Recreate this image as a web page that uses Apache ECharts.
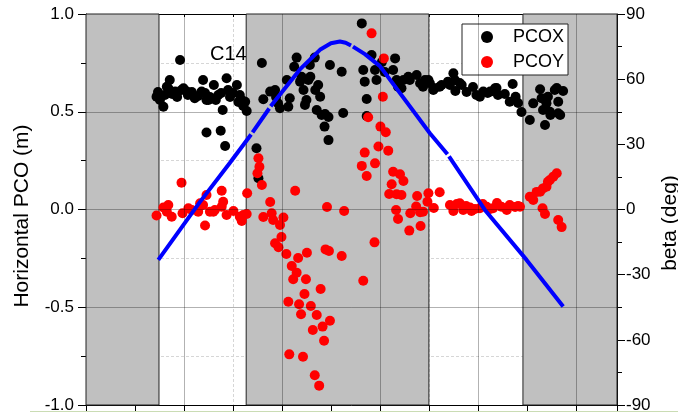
<!DOCTYPE html>
<html>
<head>
<meta charset="utf-8">
<script src="https://cdn.jsdelivr.net/npm/echarts/dist/echarts.min.js"></script>
<style>
  html, body { margin: 0; padding: 0; background: #fff; }
  #chart { width: 678px; height: 412px; }
</style>
</head>
<body>
<div id="chart"></div>
<script>
// Horizontal PCO estimates for C14 (m) against orbit time, with the sun elevation angle beta (deg)

// Eclipse-season spans along the time axis (shaded)
const eclipseSpans = [[0, 1.49], [3.27, 7.0], [8.92, 10.84]];

// PCOX estimates
const pcoxX = [1.44,1.47,1.51,1.58,1.61,1.65,1.68,1.71,1.76,1.82,1.86,1.92,1.95,1.99,2.06,2.08,2.12,2.16,2.22,2.29,
  2.36,2.39,2.43,2.46,2.46,2.50,2.53,2.61,2.65,2.70,2.75,2.76,2.79,2.84,2.87,2.90,2.94,3.00,3.08,3.11,
  3.14,3.18,3.21,3.25,3.28,3.48,3.52,3.59,3.62,3.76,3.86,3.88,3.92,3.96,4.10,4.13,4.16,4.25,4.30,4.37,
  4.40,4.44,4.47,4.50,4.54,4.57,4.58,4.67,4.68,4.71,4.74,4.78,4.81,4.88,4.95,4.87,4.95,4.98,5.22,5.25,
  5.63,5.66,5.69,5.73,5.73,5.83,5.90,5.93,6.04,6.10,6.27,6.31,6.34,6.37,6.44,6.48,6.58,6.61,6.75,6.82,
  6.88,6.92,6.99,7.02,7.09,7.12,7.22,7.26,7.39,7.43,7.50,7.53,7.54,7.63,7.67,7.77,7.90,7.97,8.04,8.11,
  8.20,8.25,8.35,8.38,8.41,8.55,8.65,8.71,8.77,8.82,8.89,9.06,9.13,9.27,9.30,9.33,9.37,9.40,9.43,9.47,
  9.48,9.57,9.61,9.64,9.64,9.68,9.74];
const pcoxY = [0.577,0.601,0.560,0.526,0.586,0.628,0.620,0.662,0.591,0.603,0.575,0.765,0.611,0.620,0.603,0.586,0.594,0.601,0.569,0.581,
  0.603,0.662,0.596,0.560,0.394,0.560,0.575,0.637,0.560,0.586,0.403,0.596,0.509,0.325,0.671,0.611,0.575,0.596,0.637,0.550,
  0.586,0.560,0.529,0.551,0.504,0.313,0.160,0.749,0.564,0.603,0.611,0.575,0.543,0.518,0.662,0.526,0.569,0.730,0.777,0.654,
  0.679,0.611,0.535,0.560,0.662,0.739,0.679,0.777,0.611,0.509,0.637,0.577,0.483,0.488,0.473,0.424,0.355,0.739,0.705,0.494,
  0.952,0.714,0.654,0.565,0.478,0.790,0.714,0.662,0.754,0.703,0.714,0.773,0.662,0.628,0.620,0.662,0.679,0.662,0.688,0.646,
  0.628,0.662,0.662,0.646,0.611,0.620,0.628,0.637,0.654,0.637,0.697,0.662,0.606,0.647,0.637,0.601,0.627,0.586,0.577,0.603,
  0.596,0.603,0.620,0.621,0.586,0.591,0.551,0.642,0.577,0.545,0.499,0.458,0.543,0.615,0.569,0.509,0.432,0.543,0.577,0.500,
  0.483,0.611,0.621,0.551,0.492,0.483,0.606];

// PCOY estimates
const pcoyX = [1.44,1.58,1.65,1.68,1.75,1.95,1.97,2.09,2.16,2.29,2.33,2.39,2.43,2.46,2.53,2.60,2.63,2.77,2.77,2.80,
  2.87,3.01,3.14,3.18,3.21,3.28,3.29,3.50,3.52,3.54,3.59,3.62,3.76,3.79,3.82,3.96,4.03,3.99,3.86,3.93,
  4.09,4.27,4.33,4.51,4.20,4.30,4.23,4.49,4.79,4.46,4.13,4.35,4.59,4.39,4.71,4.98,4.83,4.63,4.86,4.15,
  4.43,4.67,4.76,4.92,4.89,4.96,5.22,5.27,5.66,5.89,5.83,6.08,6.06,5.76,6.01,6.12,5.97,5.69,6.17,5.90,
  5.63,5.73,6.27,6.41,6.48,6.24,6.19,6.34,6.44,6.33,6.37,6.60,6.83,6.62,6.74,6.76,6.82,6.88,6.97,6.99,
  7.10,7.22,7.43,7.50,7.57,7.63,7.70,7.76,7.84,7.87,7.94,8.04,8.10,8.18,8.25,8.31,8.39,8.48,8.59,8.65,
  8.76,8.82,8.86,9.06,9.13,9.20,9.27,9.33,9.40,9.43,9.47,9.54,9.61,9.32,9.37,9.64,9.71];
const pcoyY = [-0.031,0.010,-0.011,0.023,-0.037,0.137,-0.019,0.006,-0.003,-0.011,0.032,0.023,-0.082,0.074,-0.011,-0.011,-0.003,0.096,0.014,0.040,
  -0.028,-0.008,-0.037,-0.059,-0.028,-0.023,0.083,0.185,0.262,0.219,0.125,-0.038,0.038,-0.019,-0.054,-0.079,-0.041,-0.141,-0.173,-0.193,
  -0.228,0.096,-0.248,-0.221,-0.289,-0.323,-0.357,-0.357,-0.407,-0.432,-0.472,-0.485,-0.494,-0.536,-0.540,-0.569,-0.599,-0.616,-0.671,-0.741,
  -0.753,-0.848,-0.901,0.013,-0.204,-0.212,-0.238,-0.008,-0.364,-0.168,0.901,0.773,0.577,0.472,0.424,0.395,0.322,0.291,0.301,0.236,
  0.223,0.171,0.193,0.180,0.146,0.129,0.079,0.078,0.074,-0.003,-0.049,-0.108,-0.084,-0.019,0.015,0.069,-0.014,-0.011,0.040,0.083,
  0.008,0.088,0.023,-0.008,0.028,0.032,-0.003,0.018,0.010,-0.008,0.003,0.006,0.028,0.014,0.003,0.006,0.033,0.014,-0.003,0.023,
  0.013,0.018,0.014,0.065,0.049,0.090,0.091,0.108,0.117,0.142,0.151,0.168,0.185,0.006,-0.023,-0.054,-0.090];

// Beta angle (deg); null marks a break in the curve
const betaX   = [1.476, 2.327, 2.939, 3.37, 3.385, 3.40, 3.74, 3.755, 3.77, 4.367, 4.776, 5.0, 5.184, 5.30, 5.41, 5.43, 5.45, 5.694, 6.0, 7.02, 7.38, 7.395, 7.41, 8.143, 8.994, 9.741];
const betaDeg = [-23.2, 3.5, 21.5, 34.5, null, 35.5, 46.5, null, 47.5, 64.5, 73.5, 76.5, 77.3, 76.8, 75.5, null, 75.0, 71.5, 66.0, 35.1, 25.4, null, 24.5, -0.2, -23.2, -44.7];

// Axis ticks
const leftTicks  = { min: -1, max: 1, step: 0.5 };
const rightTicks = { min: -90, max: 90, step: 30 };
const xRange     = { min: 0, max: 10.84, step: 1 };
const majorX = [2, 4, 6, 8, 10];
const majorY = [0.5, 0, -0.5];

const FONT = '"Liberation Sans", Arial, Helvetica, sans-serif';
const pair = (xs, ys) => xs.map((x, i) => [x, ys[i] === null ? '-' : ys[i]]);

const chart = echarts.init(document.getElementById('chart'), null, { renderer: 'canvas' });

const option = {
  animation: false,
  backgroundColor: '#fff',
  grid: { left: 86, right: 61, top: 14, bottom: 7, containLabel: false, outerBoundsMode: 'none' },
  xAxis: [
    {
      type: 'value', min: xRange.min, max: xRange.max, interval: xRange.step, position: 'bottom',
      axisLine: { show: true, onZero: false, lineStyle: { color: '#000', width: 1 } },
      axisTick: { show: true, inside: false, length: 6, lineStyle: { color: '#000' } },
      axisLabel: { show: false },
      splitLine: { show: true, lineStyle: { color: ['transparent', '#d6d6d6'], type: [3, 2], width: 1 } }
    },
    {
      type: 'value', min: xRange.min, max: xRange.max, interval: xRange.step, position: 'top',
      axisLine: { show: true, onZero: false, lineStyle: { color: '#000', width: 1 } },
      axisTick: { show: true, inside: true, length: 3, lineStyle: { color: '#000' } },
      axisLabel: { show: false },
      splitLine: { show: false }
    }
  ],
  yAxis: [
    {
      type: 'value', min: leftTicks.min, max: leftTicks.max, interval: leftTicks.step, position: 'left',
      axisLine: { show: true, onZero: false, lineStyle: { color: '#000', width: 1 } },
      axisTick: { show: true, length: 8, lineStyle: { color: '#000' } },
      minorTick: { show: true, splitNumber: 2, length: 5, lineStyle: { color: '#000' } },
      axisLabel: { margin: 12, fontSize: 17, color: '#000', fontFamily: FONT, formatter: v => v.toFixed(1) },
      splitLine: { show: false },
      minorSplitLine: { show: true, lineStyle: { color: '#d6d6d6', type: [3, 2], width: 1 } }
    },
    {
      type: 'value', min: rightTicks.min, max: rightTicks.max, interval: rightTicks.step, position: 'right',
      axisLine: { show: true, onZero: false, lineStyle: { color: '#000', width: 1 } },
      axisTick: { show: true, length: 8, lineStyle: { color: '#000' } },
      minorTick: { show: true, splitNumber: 2, length: 5, lineStyle: { color: '#000' } },
      axisLabel: { margin: 9, fontSize: 17, color: '#000', fontFamily: FONT },
      splitLine: { show: false }
    }
  ],
  legend: {
    data: ['PCOX', 'PCOY'],
    orient: 'vertical',
    left: 462, top: 24,
    padding: [4, 4, 4, 19],
    itemWidth: 12, itemHeight: 12, itemGap: 7,
    icon: 'circle',
    itemStyle: { opacity: 1 },
    borderColor: '#222', borderWidth: 1, backgroundColor: '#fff',
    formatter: name => '   ' + name,
    textStyle: { fontSize: 18, color: '#000', fontFamily: FONT }
  },
  series: [
    {
      // eclipse shading
      type: 'line', data: [], z: 1, silent: true,
      markArea: {
        silent: true,
        itemStyle: { color: '#c0c0c0', opacity: 1, borderColor: '#222', borderWidth: 1 },
        data: eclipseSpans.map(s => [{ xAxis: s[0] }, { xAxis: s[1] }])
      }
    },
    {
      // major grid lines, drawn over the shading
      type: 'line', data: [], z: 2, silent: true,
      markLine: {
        silent: true, symbol: 'none', label: { show: false },
        lineStyle: { color: 'rgba(0,0,0,0.3)', type: 'solid', width: 1, opacity: 1 },
        data: majorX.map(v => ({ xAxis: v })).concat(majorY.map(v => ({ yAxis: v })))
      }
    },
    {
      name: 'PCOX', type: 'scatter', z: 3,
      symbol: 'circle', symbolSize: 10,
      itemStyle: { color: '#000', opacity: 1 },
      data: pair(pcoxX, pcoxY)
    },
    {
      name: 'PCOY', type: 'scatter', z: 4,
      symbol: 'circle', symbolSize: 10,
      itemStyle: { color: '#ff0000', opacity: 1 },
      data: pair(pcoyX, pcoyY)
    },
    {
      name: 'beta', type: 'line', yAxisIndex: 1, z: 5,
      showSymbol: false, connectNulls: false,
      lineStyle: { color: '#0000ff', width: 4, opacity: 1 },
      data: pair(betaX, betaDeg)
    }
  ],
  graphic: [
    {
      type: 'text', x: 22, y: 216, rotation: Math.PI / 2,
      style: { text: 'Horizontal PCO (m)', fill: '#000', font: '21px ' + FONT, textAlign: 'center', textVerticalAlign: 'middle' }
    },
    {
      type: 'text', x: 670, y: 223, rotation: Math.PI / 2,
      style: { text: 'beta (deg)', fill: '#000', font: '21px ' + FONT, textAlign: 'center', textVerticalAlign: 'middle' }
    },
    {
      type: 'text', x: 210, y: 54, z: 10,
      style: { text: 'C14', fill: '#000', font: '20px ' + FONT, textAlign: 'left', textVerticalAlign: 'middle' }
    },
    {
      type: 'line', shape: { x1: 30, y1: 411.5, x2: 678, y2: 411.5 },
      style: { stroke: '#cadcb4', lineWidth: 1 }
    }
  ]
};

chart.setOption(option);
</script>
</body>
</html>
